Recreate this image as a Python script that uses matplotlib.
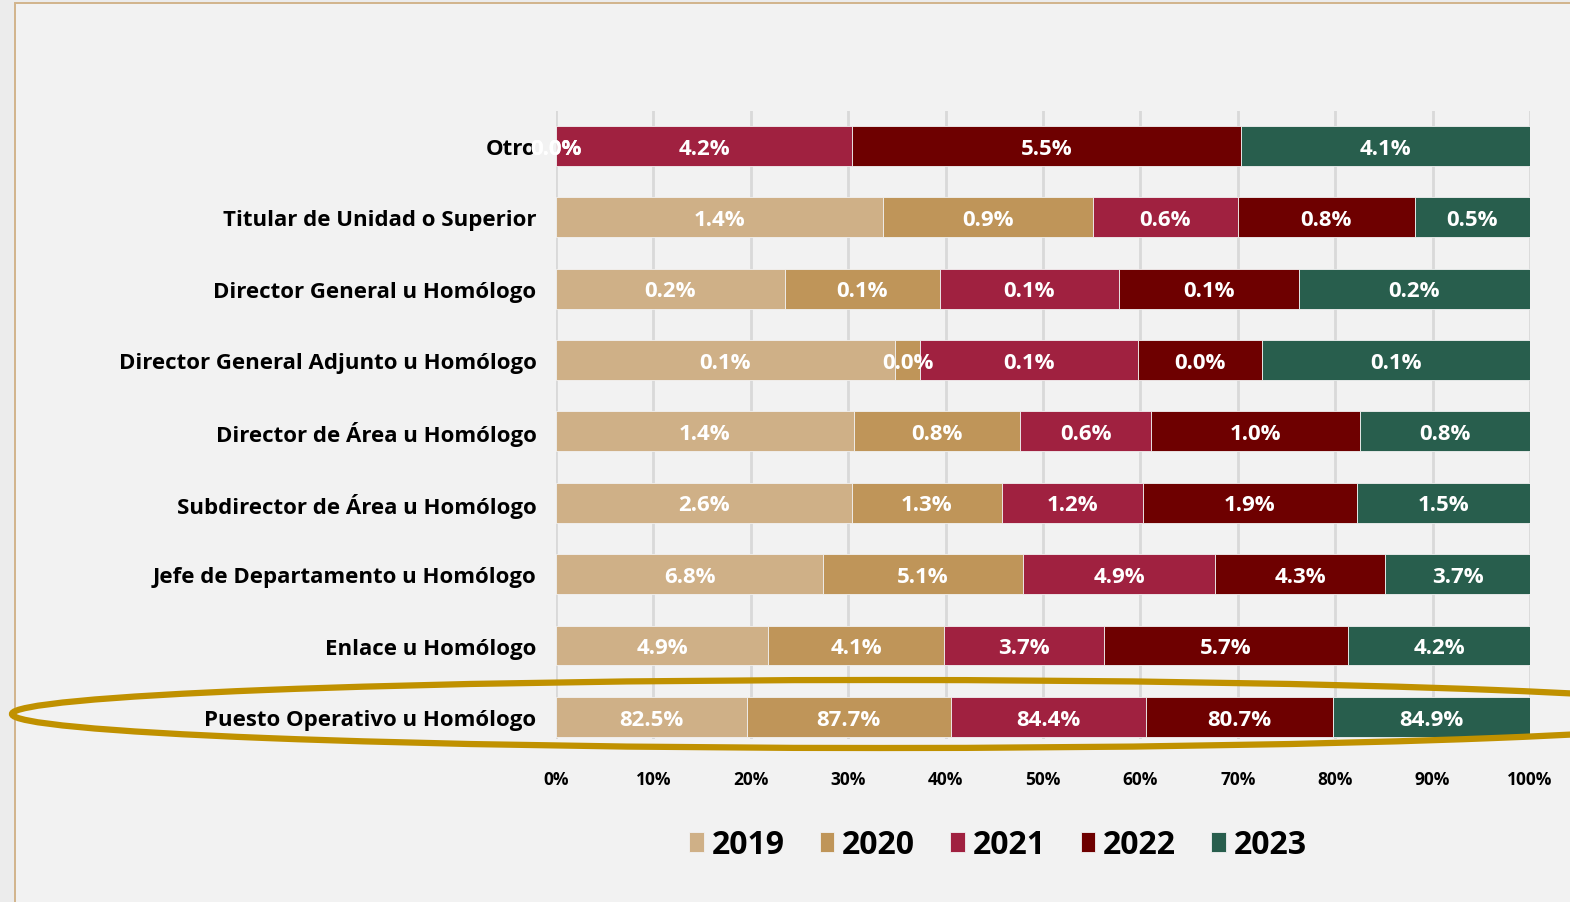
import matplotlib
matplotlib.use("Agg")
import matplotlib.pyplot as plt
from matplotlib.patches import Ellipse, Rectangle
import numpy as np

# Puestos (de arriba hacia abajo) y porcentaje de cada año
categories = [
    "Otro",
    "Titular de Unidad o Superior",
    "Director General u Homólogo",
    "Director General Adjunto u Homólogo",
    "Director de Área u Homólogo",
    "Subdirector de Área u Homólogo",
    "Jefe de Departamento u Homólogo",
    "Enlace u Homólogo",
    "Puesto Operativo u Homólogo",
]
years = ["2019", "2020", "2021", "2022", "2023"]

v2019 = [0.00, 1.42, 0.177, 0.120, 1.40, 2.58, 6.80, 4.92, 82.5]
v2020 = [0.00, 0.91, 0.120, 0.009, 0.78, 1.31, 5.08, 4.08, 87.7]
v2021 = [4.20, 0.63, 0.139, 0.077, 0.62, 1.23, 4.90, 3.70, 84.4]
v2022 = [5.50, 0.77, 0.139, 0.044, 0.98, 1.87, 4.33, 5.66, 80.7]
v2023 = [4.10, 0.50, 0.179, 0.095, 0.80, 1.51, 3.68, 4.22, 84.9]

colors = ["#cfb087", "#bf9559", "#a02140", "#6e0000", "#285e4d"]
x_ticks = [0, 10, 20, 30, 40, 50, 60, 70, 80, 90, 100]

W, H = 1570, 903
fig = plt.figure(figsize=(W / 100, H / 100), dpi=100)
fig.patch.set_facecolor("#ececec")

# Panel de fondo con borde dorado
fig.add_artist(Rectangle((15 / W, -0.1), 1.2, 1 - 4 / H + 0.1,
                         transform=fig.transFigure, facecolor="#f2f2f2",
                         edgecolor="#d2b48c", linewidth=1.4, zorder=0))

ax = fig.add_axes([556 / W, 1 - 740 / H, (1530 - 556) / W, (740 - 112) / H])
ax.set_facecolor("none")

data = np.array([v2019, v2020, v2021, v2022, v2023])
totals = data.sum(axis=0)
shares = data / totals * 100
y = np.arange(len(categories))

left = np.zeros(len(categories))
for i, yr in enumerate(years):
    ax.barh(y, shares[i], left=left, height=0.56, color=colors[i],
            edgecolor="#f2f2f2", linewidth=0.6, label=yr, zorder=2)
    for j in range(len(categories)):
        ax.text(left[j] + shares[i][j] / 2, y[j] + 0.03, f"{data[i][j]:.1f}%",
                ha="center", va="center", color="white", fontsize=16,
                fontweight="bold", family="Open Sans", zorder=5,
                clip_on=False)
    left += shares[i]

ax.set_xlim(0, 100)
ax.set_ylim(8.31, -0.49)
ax.set_xticks(x_ticks)
ax.set_xticklabels([f"{t}%" for t in x_ticks], fontsize=12.5, fontweight="bold",
                   family="Open Sans")
ax.set_yticks(y)
ax.set_yticklabels(categories, fontsize=16, fontweight="bold",
                   family="Open Sans")
ax.tick_params(axis="x", length=0, pad=22)
ax.tick_params(axis="y", length=0, pad=14)
ax.grid(axis="x", color="#d9d9d9", linewidth=2, zorder=0)
ax.set_axisbelow(True)
for s in ax.spines.values():
    s.set_visible(False)

fig.legend(loc="center", bbox_to_anchor=(998 / W, 1 - 846 / H), ncol=5,
           frameon=False, handlelength=0.45, handleheight=0.6,
           handletextpad=0.25, columnspacing=1.1,
           prop={"family": "Open Sans", "weight": "bold", "size": 23})

# Óvalo que resalta la fila de puesto operativo
fig.add_artist(Ellipse((880 / W, 1 - 715 / H), 2 * 868 / W, 68 / H,
                       transform=fig.transFigure, fill=False,
                       edgecolor="#c09100", linewidth=4.5, zorder=10))

fig.savefig("out.png", dpi=100, facecolor=fig.get_facecolor())
